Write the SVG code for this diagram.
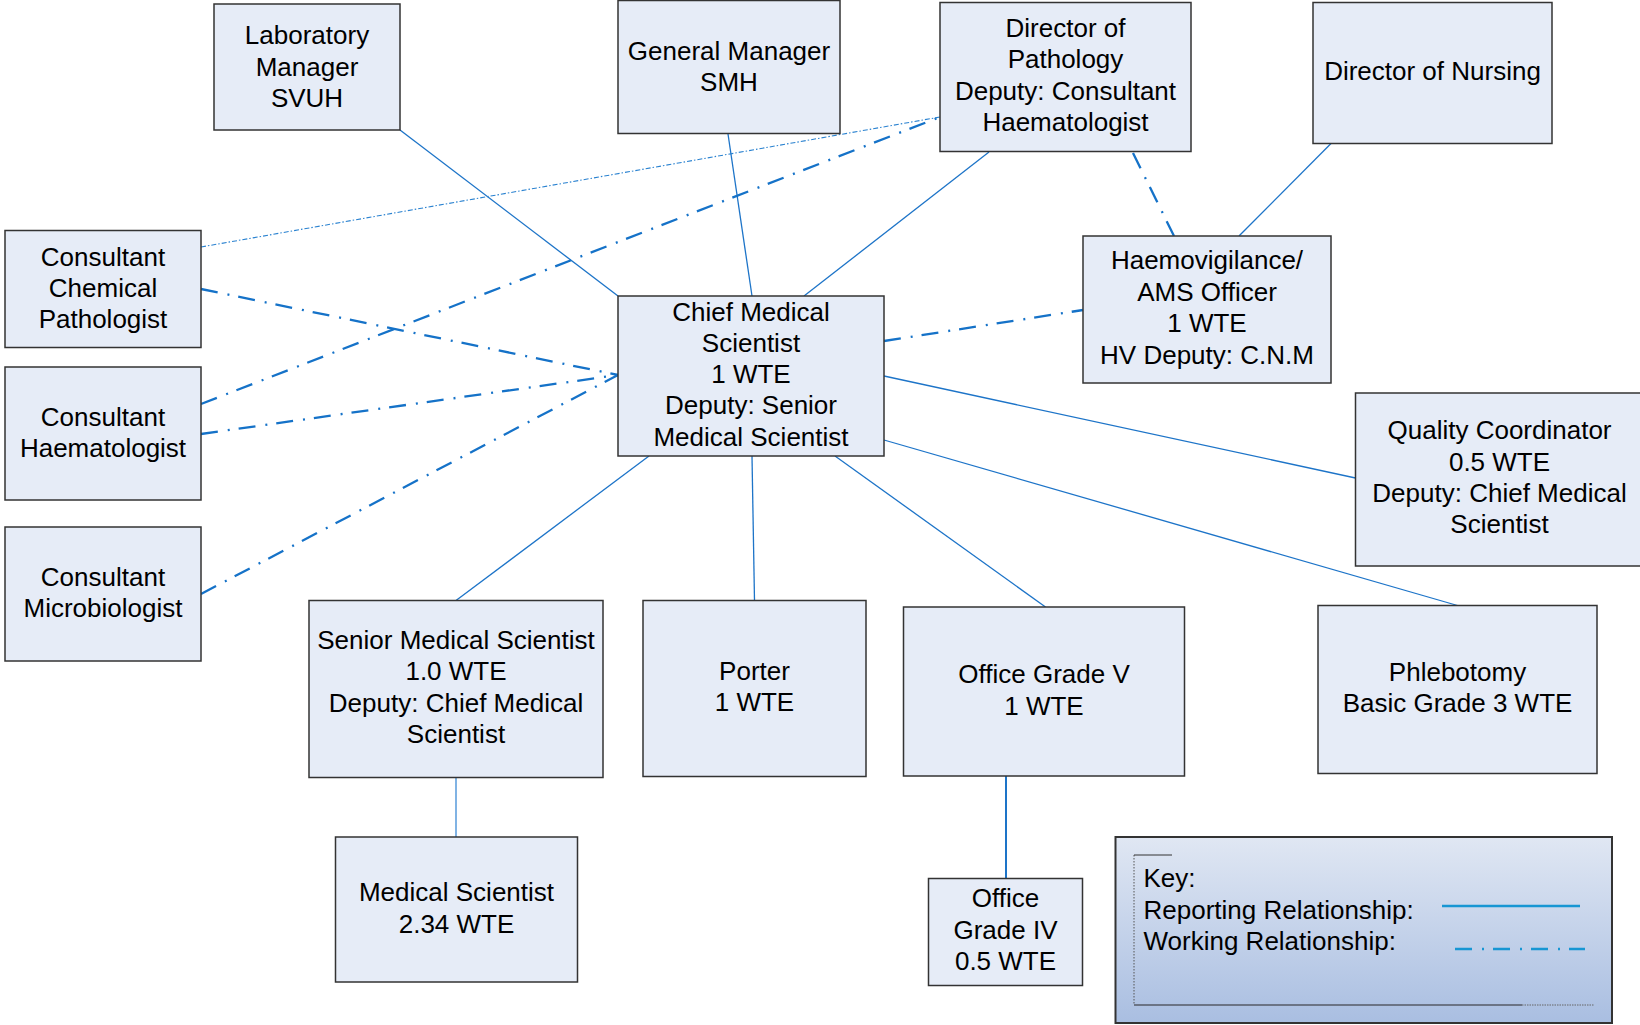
<svg xmlns="http://www.w3.org/2000/svg" width="1640" height="1025" viewBox="0 0 1640 1025">
<defs>
<linearGradient id="keyGrad" x1="0" y1="0" x2="0" y2="1">
<stop offset="0" stop-color="#e0e7f3"/>
<stop offset="1" stop-color="#a9bee1"/>
</linearGradient>
<style>
.box{fill:#e6ecf7;stroke:#333333;stroke-width:1.5}
.t{font-family:"Liberation Sans",Arial,sans-serif;font-size:26px;fill:#000000;text-anchor:middle}
.tl{font-family:"Liberation Sans",Arial,sans-serif;font-size:26px;fill:#000000}
.rep{stroke:#1d74c8;stroke-width:1.3;fill:none}
.work{stroke:#1572c8;stroke-width:2.3;fill:none;stroke-dasharray:17 10 2 9}
.fine{stroke:#2a82d0;stroke-width:1.1;fill:none;stroke-dasharray:5 2 1.5 2}
</style>
</defs>
<rect width="1640" height="1025" fill="#ffffff"/>
<g id="connectors">
<line class="rep" x1="400" y1="130" x2="618" y2="296"/>
<line class="rep" x1="728" y1="134" x2="752" y2="296"/>
<line class="rep" x1="989" y1="152" x2="804" y2="296"/>
<line class="rep" x1="1331" y1="143.5" x2="1239" y2="236"/>
<line class="rep" x1="884" y1="376" x2="1355.5" y2="478"/>
<line class="rep" x1="884" y1="440" x2="1457.5" y2="605.5"/>
<line class="rep" x1="649" y1="456" x2="456" y2="600.5"/>
<line class="rep" x1="752" y1="456" x2="754.5" y2="600.5"/>
<line class="rep" x1="835" y1="456" x2="1045.5" y2="607"/>
<line class="rep" x1="456" y1="777.5" x2="456" y2="837" style="stroke:#3d8ad6"/>
<line class="rep" x1="1006" y1="776" x2="1006" y2="878.5" style="stroke-width:2"/>
<line class="work" x1="1133" y1="153" x2="1174" y2="236"/>
<line class="work" x1="884" y1="341" x2="1083" y2="310"/>
<line class="work" x1="201" y1="289" x2="618" y2="375"/>
<line class="work" x1="201" y1="404" x2="940" y2="117"/>
<line class="work" x1="201" y1="434" x2="618" y2="375"/>
<line class="work" x1="201" y1="594" x2="618" y2="375"/>
<line class="fine" x1="201" y1="247" x2="940" y2="117"/>
</g>
<g id="lab-manager">
<rect class="box" x="214" y="4" width="186" height="126"/>
<text class="t" x="307" y="44.3">Laboratory</text>
<text class="t" x="307" y="75.7">Manager</text>
<text class="t" x="307" y="107">SVUH</text>
</g>
<g id="general-manager">
<rect class="box" x="618" y="0.5" width="222" height="133"/>
<text class="t" x="729" y="60">General Manager</text>
<text class="t" x="729" y="91.3">SMH</text>
</g>
<g id="director-pathology">
<rect class="box" x="940" y="2.5" width="251" height="149"/>
<text class="t" x="1065.5" y="36.7">Director of</text>
<text class="t" x="1065.5" y="68">Pathology</text>
<text class="t" x="1065.5" y="99.5">Deputy: Consultant</text>
<text class="t" x="1065.5" y="131">Haematologist</text>
</g>
<g id="director-nursing">
<rect class="box" x="1313" y="2.5" width="239" height="141"/>
<text class="t" x="1432.5" y="80.3">Director of Nursing</text>
</g>
<g id="haemovigilance">
<rect class="box" x="1083" y="236" width="248" height="147"/>
<text class="t" x="1207" y="269.3">Haemovigilance/</text>
<text class="t" x="1207" y="300.8">AMS Officer</text>
<text class="t" x="1207" y="332.3">1 WTE</text>
<text class="t" x="1207" y="363.8">HV Deputy: C.N.M</text>
</g>
<g id="chief-medical-scientist">
<rect class="box" x="618" y="296" width="266" height="160"/>
<text class="t" x="751" y="320.7">Chief Medical</text>
<text class="t" x="751" y="351.9">Scientist</text>
<text class="t" x="751" y="383.2">1 WTE</text>
<text class="t" x="751" y="414.4">Deputy: Senior</text>
<text class="t" x="751" y="445.7">Medical Scientist</text>
</g>
<g id="consultant-chemical-pathologist">
<rect class="box" x="5" y="230.5" width="196" height="117"/>
<text class="t" x="103" y="265.7">Consultant</text>
<text class="t" x="103" y="297">Chemical</text>
<text class="t" x="103" y="328.2">Pathologist</text>
</g>
<g id="consultant-haematologist">
<rect class="box" x="5" y="367" width="196" height="133"/>
<text class="t" x="103" y="425.7">Consultant</text>
<text class="t" x="103" y="457.2">Haematologist</text>
</g>
<g id="consultant-microbiologist">
<rect class="box" x="5" y="527" width="196" height="134"/>
<text class="t" x="103" y="586">Consultant</text>
<text class="t" x="103" y="617.4">Microbiologist</text>
</g>
<g id="quality-coordinator">
<rect class="box" x="1355.5" y="393" width="290" height="173"/>
<text class="t" x="1499.5" y="439.3">Quality Coordinator</text>
<text class="t" x="1499.5" y="470.7">0.5 WTE</text>
<text class="t" x="1499.5" y="502">Deputy: Chief Medical</text>
<text class="t" x="1499.5" y="533.3">Scientist</text>
</g>
<g id="senior-medical-scientist">
<rect class="box" x="309" y="600.5" width="294" height="177"/>
<text class="t" x="456" y="649">Senior Medical Scientist</text>
<text class="t" x="456" y="680.4">1.0 WTE</text>
<text class="t" x="456" y="711.8">Deputy: Chief Medical</text>
<text class="t" x="456" y="743.2">Scientist</text>
</g>
<g id="porter">
<rect class="box" x="643" y="600.5" width="223" height="176"/>
<text class="t" x="754.5" y="680">Porter</text>
<text class="t" x="754.5" y="710.7">1 WTE</text>
</g>
<g id="office-grade-v">
<rect class="box" x="903.5" y="607" width="281" height="169"/>
<text class="t" x="1044" y="683.3">Office Grade V</text>
<text class="t" x="1044" y="714.7">1 WTE</text>
</g>
<g id="phlebotomy">
<rect class="box" x="1318" y="605.5" width="279" height="168"/>
<text class="t" x="1457.5" y="680.7">Phlebotomy</text>
<text class="t" x="1457.5" y="711.8">Basic Grade 3 WTE</text>
</g>
<g id="medical-scientist">
<rect class="box" x="335.5" y="837" width="242" height="145"/>
<text class="t" x="456.5" y="901">Medical Scientist</text>
<text class="t" x="456.5" y="932.5">2.34 WTE</text>
</g>
<g id="office-grade-iv">
<rect class="box" x="928.5" y="878.5" width="154" height="107"/>
<text class="t" x="1005.5" y="907.3">Office</text>
<text class="t" x="1005.5" y="938.7">Grade IV</text>
<text class="t" x="1005.5" y="970">0.5 WTE</text>
</g>
<g id="key">
<rect x="1115.5" y="837" width="496.5" height="186" fill="url(#keyGrad)" stroke="#333333" stroke-width="2"/>
<line x1="1134" y1="855" x2="1134" y2="1005" stroke="#555555" stroke-width="1" stroke-dasharray="1.5 1.5"/>
<line x1="1134" y1="855" x2="1172" y2="855" stroke="#333333" stroke-width="1"/>
<line x1="1134" y1="1005" x2="1522" y2="1005" stroke="#555a66" stroke-width="1.3"/>
<line x1="1522" y1="1005" x2="1594" y2="1005" stroke="#666666" stroke-width="1" stroke-dasharray="1.5 1"/>
<text class="tl" x="1143.5" y="887">Key:</text>
<text class="tl" x="1143.5" y="918.7">Reporting Relationship:</text>
<text class="tl" x="1143.5" y="950.3">Working Relationship:</text>
<line x1="1442" y1="906" x2="1580" y2="906" stroke="#1796d3" stroke-width="2.5"/>
<line x1="1455" y1="949" x2="1585" y2="949" stroke="#1796d3" stroke-width="2.5" stroke-dasharray="17 10 2 9"/>
</g>
</svg>
